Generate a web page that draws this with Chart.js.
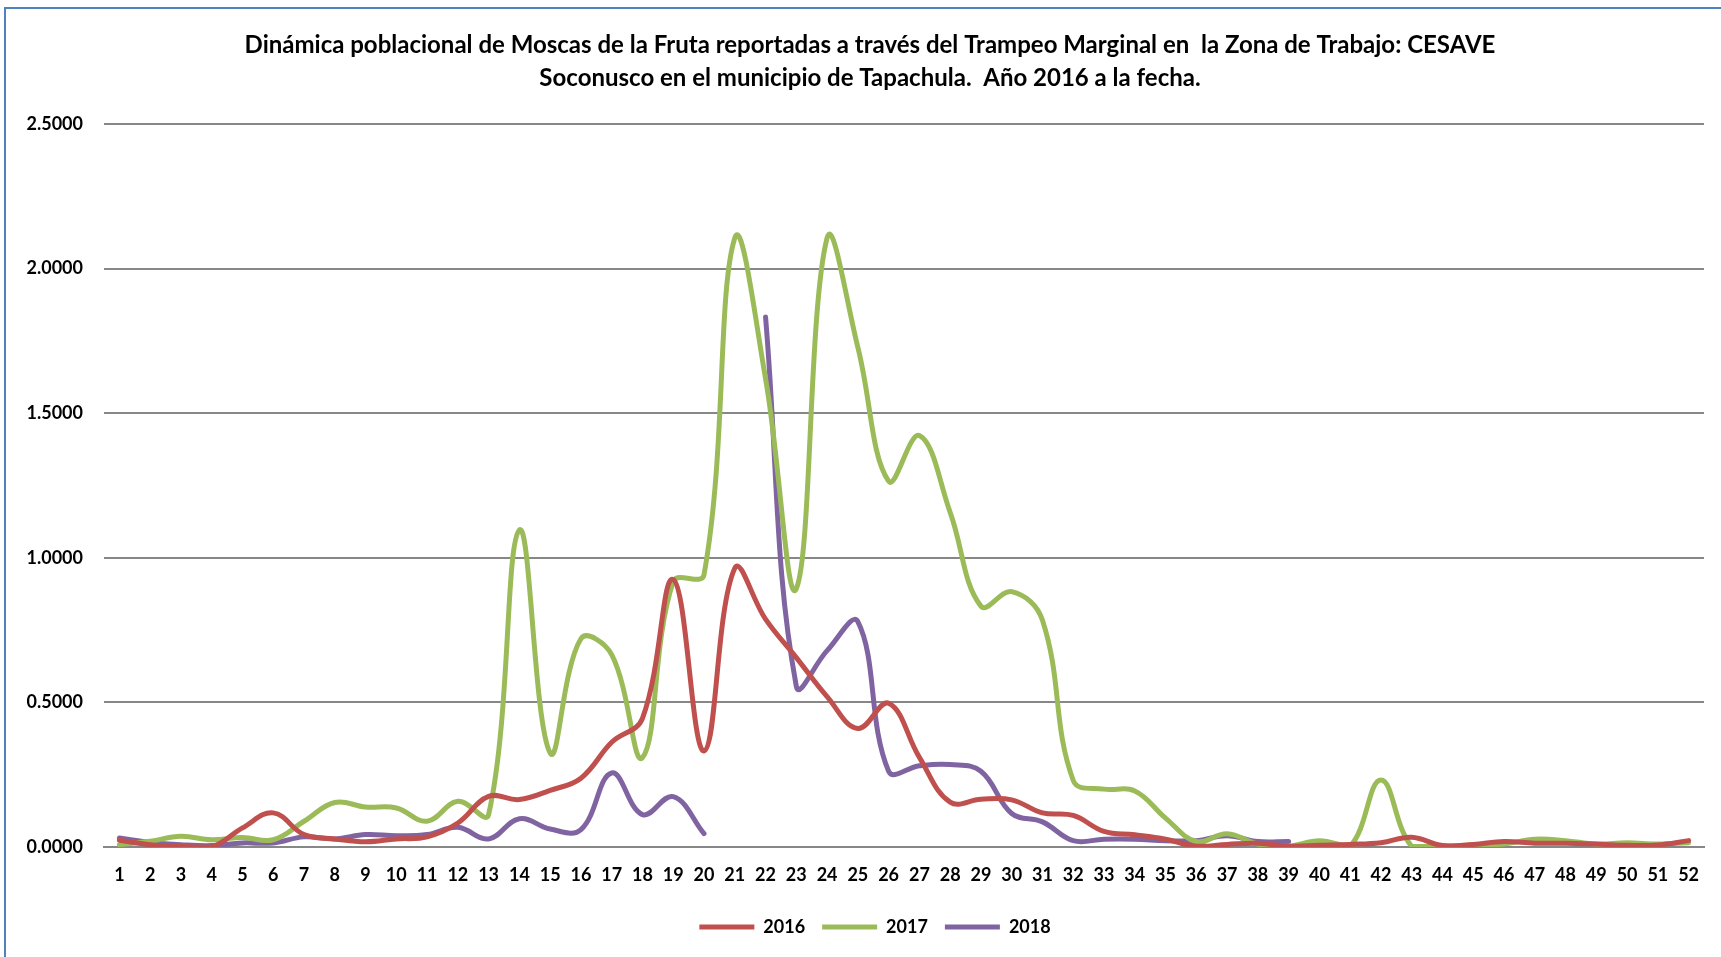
<!DOCTYPE html>
<html>
<head>
<meta charset="utf-8">
<script src="https://cdn.jsdelivr.net/npm/chart.js@4.4.0/dist/chart.umd.min.js"></script>
<style>
  html, body { margin: 0; padding: 0; background: #ffffff; overflow: hidden; }
  #wrap { position: relative; width: 1721px; height: 957px; }
  #frame { position: absolute; left: 4px; top: 7px; width: 1800px; height: 1000px;
           border-left: 2px solid #4F81BD; border-top: 2px solid #4F81BD; pointer-events: none; }
  canvas { position: absolute; left: 0; top: 0; }
</style>
</head>
<body>
<div id="wrap">
  <canvas id="c" width="1721" height="957"></canvas>
  <div id="frame"></div>
</div>
<script>
const titleLines = [
  "Dinámica poblacional de Moscas de la Fruta reportadas a través del Trampeo Marginal en  la Zona de Trabajo: CESAVE",
  "Soconusco en el municipio de Tapachula.  Año 2016 a la fecha."
];

const weeks = ["1","2","3","4","5","6","7","8","9","10","11","12","13","14","15","16","17","18","19","20",
  "21","22","23","24","25","26","27","28","29","30","31","32","33","34","35","36","37","38","39","40",
  "41","42","43","44","45","46","47","48","49","50","51","52"];

const s2016 = [0.023, 0.008, 0.002, 0.0, 0.066, 0.118, 0.043, 0.028, 0.018, 0.028,
  0.035, 0.083, 0.175, 0.164, 0.196, 0.238, 0.362, 0.445, 0.925, 0.332,
  0.964, 0.788, 0.655, 0.52, 0.41, 0.497, 0.31, 0.155, 0.165, 0.163,
  0.118, 0.109, 0.054, 0.042, 0.027, 0.003, 0.009, 0.013, 0.003, 0.006,
  0.009, 0.015, 0.034, 0.005, 0.009, 0.019, 0.013, 0.013, 0.01, 0.006, 0.007, 0.022];

const s2017 = [0.008, 0.02, 0.037, 0.025, 0.033, 0.025, 0.089, 0.154, 0.138, 0.135,
  0.089, 0.158, 0.112, 1.096, 0.325, 0.72, 0.665, 0.309, 0.918, 0.941,
  2.106, 1.62, 0.893, 2.106, 1.728, 1.265, 1.423, 1.157, 0.833, 0.883,
  0.784, 0.23, 0.2, 0.194, 0.1, 0.019, 0.046, 0.01, 0.003, 0.022,
  0.003, 0.232, 0.003, 0.003, 0.007, 0.01, 0.027, 0.022, 0.01, 0.015, 0.01, 0.015];

const s2018 = [0.031, 0.016, 0.008, 0.005, 0.014, 0.014, 0.035, 0.028, 0.043, 0.039,
  0.043, 0.068, 0.028, 0.098, 0.062, 0.06, 0.256, 0.112, 0.174, 0.046,
  null, 1.833, 0.556, 0.679, 0.779, 0.262, 0.281, 0.285, 0.262, 0.116,
  0.087, 0.022, 0.027, 0.027, 0.022, 0.022, 0.039, 0.019, 0.019, null,
  null, null, null, null, null, null, null, null, null, null, null, null];

const seriesNames = ["2016", "2017", "2018"];
const yTicks = [0, 0.5, 1, 1.5, 2, 2.5];

const colors = ["#C0504D", "#9BBB59", "#8064A2"];
const seriesData = [s2016, s2017, s2018];

const titlePlugin = {
  id: 'customTitle',
  afterLayout(chart) {
    // shift the legend box so its items sit where the reference places them
    if (chart.legend) { chart.legend.left = 46; }
  },
  afterDraw(chart) {
    const ctx = chart.ctx;
    ctx.save();
    ctx.fillStyle = '#000000';
    ctx.font = 'bold 24px Lato';
    ctx.textAlign = 'center';
    ctx.textBaseline = 'middle';
    ctx.fillText(titleLines[0], 870, 45);
    ctx.fillText(titleLines[1], 870, 78);
    ctx.restore();
  }
};

new Chart(document.getElementById('c'), {
  type: 'line',
  data: {
    labels: weeks,
    datasets: seriesNames.map((n, i) => ({
      label: n,
      data: seriesData[i],
      borderColor: colors[i],
      backgroundColor: colors[i],
      borderWidth: 5,
      borderCapStyle: 'round',
      borderJoinStyle: 'round',
      pointRadius: 0,
      pointHoverRadius: 0,
      tension: 0.4,
      spanGaps: false,
      fill: false
    }))
  },
  options: {
    responsive: false,
    animation: false,
    devicePixelRatio: 1,
    layout: { padding: { top: 124, right: 17, bottom: 11, left: 0 } },
    plugins: {
      title: { display: false },
      tooltip: { enabled: false },
      legend: {
        display: true,
        position: 'bottom',
        labels: {
          usePointStyle: true,
          pointStyle: 'line',
          pointStyleWidth: 55,
          padding: 17,
          color: '#000000',
          font: { family: 'Lato', size: 18, weight: 'bold' }
        }
      }
    },
    scales: {
      x: {
        offset: true,
        grid: { display: false, drawTicks: false },
        border: { display: true, color: '#878787', width: 2 },
        ticks: {
          color: '#000000',
          padding: 17,
          maxRotation: 0,
          autoSkip: false,
          font: { family: 'Lato', size: 18, weight: 'bold' }
        },
        afterFit(scale) { scale.height = 54; }
      },
      y: {
        min: 0,
        max: 2.5,
        afterBuildTicks(scale) { scale.ticks = yTicks.map(v => ({ value: v })); },
        grid: { color: '#878787', lineWidth: 2, drawTicks: false },
        border: { display: false },
        ticks: {
          color: '#000000',
          padding: 21,
          font: { family: 'Lato', size: 18, weight: 'bold' },
          callback: (v) => Number(v).toFixed(4)
        },
        afterFit(scale) { scale.width = 104; }
      }
    }
  },
  plugins: [titlePlugin]
});
</script>
</body>
</html>
